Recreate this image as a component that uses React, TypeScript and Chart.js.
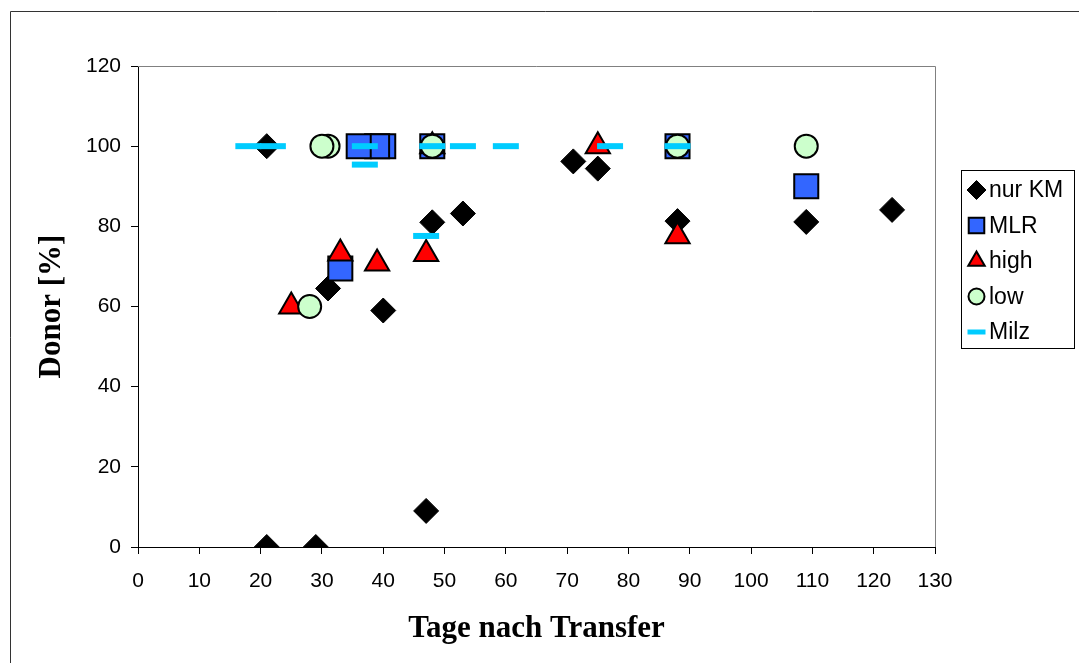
import React, { useEffect, useRef } from 'react';
import { Chart, registerables } from 'chart.js';

Chart.register(...registerables);

// ---- data ----
const seriesNames = ['nur KM', 'MLR', 'high', 'low', 'Milz'];

const nurKmX = [21, 21, 29, 31, 40, 47, 48, 53, 71, 75, 88, 109, 123];
const nurKmY = [100, 0, 0, 64.5, 59, 9, 81, 83.2, 96.2, 94.4, 81.3, 81.1, 84.1];

const mlrX = [40, 39, 36, 33, 48, 88, 109];
const mlrY = [100, 100, 100, 69.5, 100, 100, 90];

const highX = [25, 33, 39, 47, 48, 75, 88];
const highY = [60, 73.2, 70.7, 73.1, 100, 100, 77.5];

const lowX = [28, 31, 30, 48, 88, 109];
const lowY = [60, 100, 100, 100, 100, 100];

const milzX = [18, 22, 37, 37, 47, 48, 53, 60, 77, 88];
const milzY = [100, 100, 100, 95.4, 77.6, 100, 100, 100, 100, 100];

const xTickValues = [0, 10, 20, 30, 40, 50, 60, 70, 80, 90, 100, 110, 120, 130];
const yTickValues = [0, 20, 40, 60, 80, 100, 120];

const xTitle = 'Tage nach Transfer';
const yTitle = 'Donor [%]';

const toPoints = (xs: number[], ys: number[]) => xs.map((x, i) => ({ x, y: ys[i] }));

type MarkerStyle = {
  shape: string;
  fill: string;
  stroke: string;
  lw: number;
  r: number;
  legendR: number;
};

const styles: MarkerStyle[] = [
  { shape: 'rectRot', fill: '#000000', stroke: '#000000', lw: 1, r: 12.5, legendR: 9.5 },
  { shape: 'rect', fill: '#3366FF', stroke: '#000000', lw: 2, r: 17, legendR: 11 },
  { shape: 'triangle', fill: '#FF0000', stroke: '#000000', lw: 2, r: 14, legendR: 9.5 },
  { shape: 'circle', fill: '#CCFFCC', stroke: '#000000', lw: 2, r: 11.5, legendR: 8 },
  { shape: 'line', fill: '#00CCFF', stroke: '#00CCFF', lw: 6, r: 13, legendR: 9 },
];

function drawMarker(ctx: CanvasRenderingContext2D, shape: string, x: number, y: number, r: number, s: MarkerStyle, lw: number) {
  ctx.save();
  ctx.beginPath();
  ctx.fillStyle = s.fill;
  ctx.strokeStyle = s.stroke;
  ctx.lineWidth = lw;
  if (shape === 'rectRot') {
    ctx.moveTo(x, y - r);
    ctx.lineTo(x + r, y);
    ctx.lineTo(x, y + r);
    ctx.lineTo(x - r, y);
    ctx.closePath();
  } else if (shape === 'rect') {
    const h = r * Math.SQRT1_2;
    ctx.rect(x - h, y - h, 2 * h, 2 * h);
  } else if (shape === 'triangle') {
    const w = r * Math.sqrt(3) / 2;
    ctx.moveTo(x, y - r);
    ctx.lineTo(x + w, y + r / 2);
    ctx.lineTo(x - w, y + r / 2);
    ctx.closePath();
  } else if (shape === 'circle') {
    ctx.arc(x, y, r, 0, Math.PI * 2);
  } else if (shape === 'line') {
    ctx.moveTo(x - r, y);
    ctx.lineTo(x + r, y);
    ctx.stroke();
    ctx.restore();
    return;
  }
  ctx.fill();
  ctx.stroke();
  ctx.restore();
}

const framePlugin = {
  id: 'frame',
  beforeDraw(chart: any) {
    const ctx = chart.ctx;
    ctx.save();
    ctx.fillStyle = '#ffffff';
    ctx.fillRect(0, 0, chart.width, chart.height);
    ctx.restore();
  },
  beforeDatasetsDraw(chart: any) {
    const { ctx, chartArea } = chart;
    ctx.save();
    ctx.strokeStyle = '#808080';
    ctx.lineWidth = 1;
    ctx.beginPath();
    ctx.moveTo(chartArea.left, Math.round(chartArea.top) + 0.5);
    ctx.lineTo(Math.round(chartArea.right) + 0.5, Math.round(chartArea.top) + 0.5);
    ctx.lineTo(Math.round(chartArea.right) + 0.5, chartArea.bottom);
    ctx.stroke();
    ctx.restore();
  },
  afterDraw(chart: any) {
    const ctx = chart.ctx;
    ctx.save();
    // outer chart frame (left and top edges visible)
    ctx.strokeStyle = '#333333';
    ctx.lineWidth = 1;
    ctx.beginPath();
    ctx.moveTo(10.5, chart.height + 5);
    ctx.lineTo(10.5, 11.5);
    ctx.lineTo(chart.width + 5, 11.5);
    ctx.stroke();

    // legend box
    const lx = 961.5, ly = 170.5, lw = 113, lh = 178;
    ctx.fillStyle = '#ffffff';
    ctx.fillRect(lx, ly, lw, lh);
    ctx.strokeStyle = '#000000';
    ctx.strokeRect(lx, ly, lw, lh);
    const datasets = chart.data.datasets;
    ctx.font = '23px "Liberation Sans", Arial, sans-serif';
    ctx.textBaseline = 'middle';
    ctx.textAlign = 'left';
    datasets.forEach((ds: any, i: number) => {
      const s = styles[i];
      const cy = 190 + i * 35.5;
      drawMarker(ctx, s.shape, 976.5, cy, s.legendR, s, s.shape === 'line' ? 5 : Math.min(s.lw, 2));
      ctx.fillStyle = '#000000';
      ctx.fillText(ds.label, 989, cy + 1);
    });
    ctx.restore();
  },
};

export default function App() {
  const canvasRef = useRef<HTMLCanvasElement | null>(null);

  useEffect(() => {
    if (!canvasRef.current) return;
    const allX = [nurKmX, mlrX, highX, lowX, milzX];
    const allY = [nurKmY, mlrY, highY, lowY, milzY];
    const datasets = seriesNames.map((name, i) => {
      const s = styles[i];
      return {
        label: name,
        data: toPoints(allX[i], allY[i]),
        pointStyle: s.shape,
        pointRadius: s.r,
        pointHoverRadius: s.r,
        pointBackgroundColor: s.fill,
        pointBorderColor: s.stroke,
        pointBorderWidth: s.lw,
        backgroundColor: s.fill,
        borderColor: s.stroke,
        showLine: false,
        order: seriesNames.length - i,
      };
    });

    const tickFont = { family: '"Liberation Sans", Arial, sans-serif', size: 21 };
    const titleFont = { family: '"Liberation Serif", "Times New Roman", serif', size: 31, weight: 'bold' as const };

    const chart = new Chart(canvasRef.current, {
      type: 'scatter',
      data: { datasets: datasets as any },
      options: {
        responsive: false,
        animation: false,
        devicePixelRatio: 1,
        events: [],
        layout: { padding: { left: 0, top: 66, right: 144, bottom: 0 } },
        plugins: {
          legend: { display: false },
          tooltip: { enabled: false },
        },
        scales: {
          x: {
            type: 'linear',
            min: 0,
            max: 130,
            afterBuildTicks: (scale: any) => {
              scale.ticks = xTickValues.map((v) => ({ value: v }));
            },
            afterFit: (scale: any) => {
              scale.height = 116;
            },
            ticks: { color: '#000', font: tickFont, padding: 15, maxRotation: 0, autoSkip: false },
            grid: { drawOnChartArea: false, drawTicks: true, tickLength: 7, tickColor: '#000', lineWidth: 1 },
            border: { color: '#000', width: 1 },
            title: { display: true, text: xTitle, color: '#000', font: titleFont, padding: { top: 0, bottom: 15 } },
          },
          y: {
            type: 'linear',
            min: 0,
            max: 120,
            afterBuildTicks: (scale: any) => {
              scale.ticks = yTickValues.map((v) => ({ value: v }));
            },
            afterFit: (scale: any) => {
              scale.width = 138;
            },
            ticks: { color: '#000', font: tickFont, padding: 10, autoSkip: false },
            grid: { drawOnChartArea: false, drawTicks: true, tickLength: 7, tickColor: '#000', lineWidth: 1 },
            border: { color: '#000', width: 1 },
            title: { display: true, text: yTitle, color: '#000', font: titleFont, padding: { top: 33, bottom: 0 } },
          },
        },
      },
      plugins: [framePlugin],
    });
    return () => chart.destroy();
  }, []);

  return (
    <div style={{ position: 'absolute', left: 0, top: 0, width: 1079, height: 663 }}>
      <canvas ref={canvasRef} width={1079} height={663} style={{ display: 'block' }} />
    </div>
  );
}
